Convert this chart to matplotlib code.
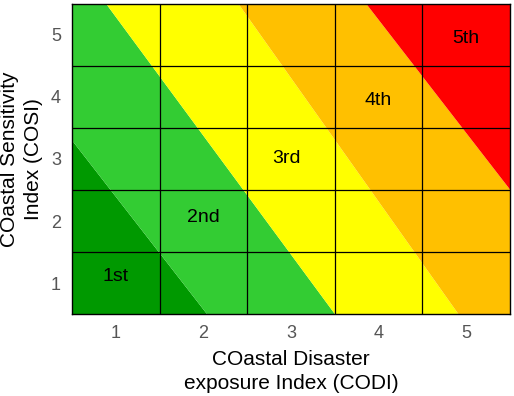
import matplotlib.pyplot as plt
import numpy as np

# 5x5 risk grid (CODI on x, COSI on y)
codi = [1, 2, 3, 4, 5]
cosi = [1, 2, 3, 4, 5]

# diagonal band boundaries: x where each boundary meets y=0.5 and y=5.5
bound_bottom_x = [2.04, 3.5, 4.91, 6.6]
bound_top_x = [-0.71, 0.89, 2.40, 3.86]
band_colors = ['#009900', '#33cc33', '#ffff00', '#ffc000', '#ff0000']

band_labels = ['1st', '2nd', '3rd', '4th', '5th']
label_x = [1.0, 2.0, 2.95, 4.0, 5.0]
label_y = [1.1, 2.05, 3.0, 3.95, 4.95]

plt.rcParams['font.family'] = ['Liberation Sans', 'DejaVu Sans']

fig = plt.figure(figsize=(5.14, 3.96), dpi=100)
ax = fig.add_axes([0.140, 0.207, 0.852, 0.783])

ys = [0.5, 5.5]
for i in range(5):
    if i == 0:
        left = [-3, -3]
    else:
        left = [bound_bottom_x[i - 1], bound_top_x[i - 1]]
    if i == 4:
        right = [9, 9]
    else:
        right = [bound_bottom_x[i], bound_top_x[i]]
    ax.fill_betweenx(ys, left, right, color=band_colors[i], lw=0, zorder=1)

for v in np.arange(1.5, 5.5, 1.0):
    ax.axvline(v, color='black', lw=0.9, zorder=2)
    ax.axhline(v, color='black', lw=0.9, zorder=2)

for t, x, y in zip(band_labels, label_x, label_y):
    ax.text(x, y, t, ha='center', va='center', fontsize=14, color='black', zorder=3)

ax.set_xlim(0.5, 5.5)
ax.set_ylim(0.5, 5.5)
ax.set_xticks(codi)
ax.set_yticks(cosi)
ax.tick_params(length=0, labelsize=13, labelcolor='#555555', pad=8)
for s in ax.spines.values():
    s.set_color('black')
    s.set_linewidth(1.0)

ax.set_xlabel('COastal Disaster\nexposure Index (CODI)', fontsize=15, labelpad=6, linespacing=1.3)
ax.set_ylabel('COastal Sensitivity\nIndex (COSI)', fontsize=15, labelpad=6, linespacing=1.3)

fig.savefig('out.png', dpi=100)
